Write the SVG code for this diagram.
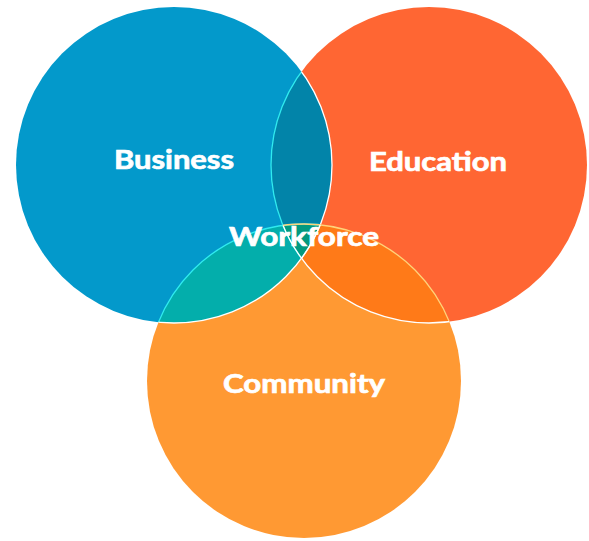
<svg xmlns="http://www.w3.org/2000/svg" width="589" height="541" viewBox="0 0 589 541">
<style>
.lbl{font-family:Lato,"Liberation Sans",sans-serif;font-weight:700;font-size:26px;fill:#ffffff;stroke:#ffffff;stroke-width:0.7;text-anchor:middle}
.edge{fill:none;stroke-width:1.3}
</style>
<defs>
<clipPath id="cB"><circle cx="174" cy="165" r="158"/></clipPath>
<clipPath id="cE"><circle cx="429" cy="165" r="158"/></clipPath>
<clipPath id="cC"><circle cx="304" cy="381" r="157"/></clipPath>
</defs>
<rect width="589" height="541" fill="#ffffff"/>
<g id="business"><circle cx="174" cy="165" r="158" fill="#0399CB"/></g>
<g id="education"><circle cx="429" cy="165" r="158" fill="#FF6633"/></g>
<g id="community"><circle cx="304" cy="381" r="157" fill="#FF9933"/></g>
<g id="overlaps">
<g clip-path="url(#cB)"><circle cx="429" cy="165" r="158" fill="#0284A9"/><circle cx="304" cy="381" r="157" fill="#03AEAB"/></g>
<g clip-path="url(#cE)"><circle cx="304" cy="381" r="157" fill="#FF7A18"/></g>
<g clip-path="url(#cB)"><g clip-path="url(#cE)"><circle cx="304" cy="381" r="157" fill="#03997F"/></g></g>
</g>
<g id="connectors">
<g clip-path="url(#cB)"><circle class="edge" cx="429" cy="165" r="158" stroke="#2EEAF0"/><circle class="edge" cx="304" cy="381" r="157" stroke="#2EEAF0"/></g>
<g clip-path="url(#cE)"><circle class="edge" cx="174" cy="165" r="158" stroke="#ffffff"/><circle class="edge" cx="304" cy="381" r="157" stroke="#FFD27A"/></g>
<g clip-path="url(#cC)"><circle class="edge" cx="174" cy="165" r="158" stroke="#ffffff"/><circle class="edge" cx="429" cy="165" r="158" stroke="#ffffff"/></g>
</g>
<g id="labels">
<text class="lbl" x="174" y="169" textLength="120" lengthAdjust="spacingAndGlyphs">Business</text>
<text class="lbl" x="438" y="171" textLength="138" lengthAdjust="spacingAndGlyphs">Education</text>
<text class="lbl" x="304" y="246" textLength="150" lengthAdjust="spacingAndGlyphs">Workforce</text>
<text class="lbl" x="304" y="393" textLength="162" lengthAdjust="spacingAndGlyphs">Community</text>
</g>
</svg>
